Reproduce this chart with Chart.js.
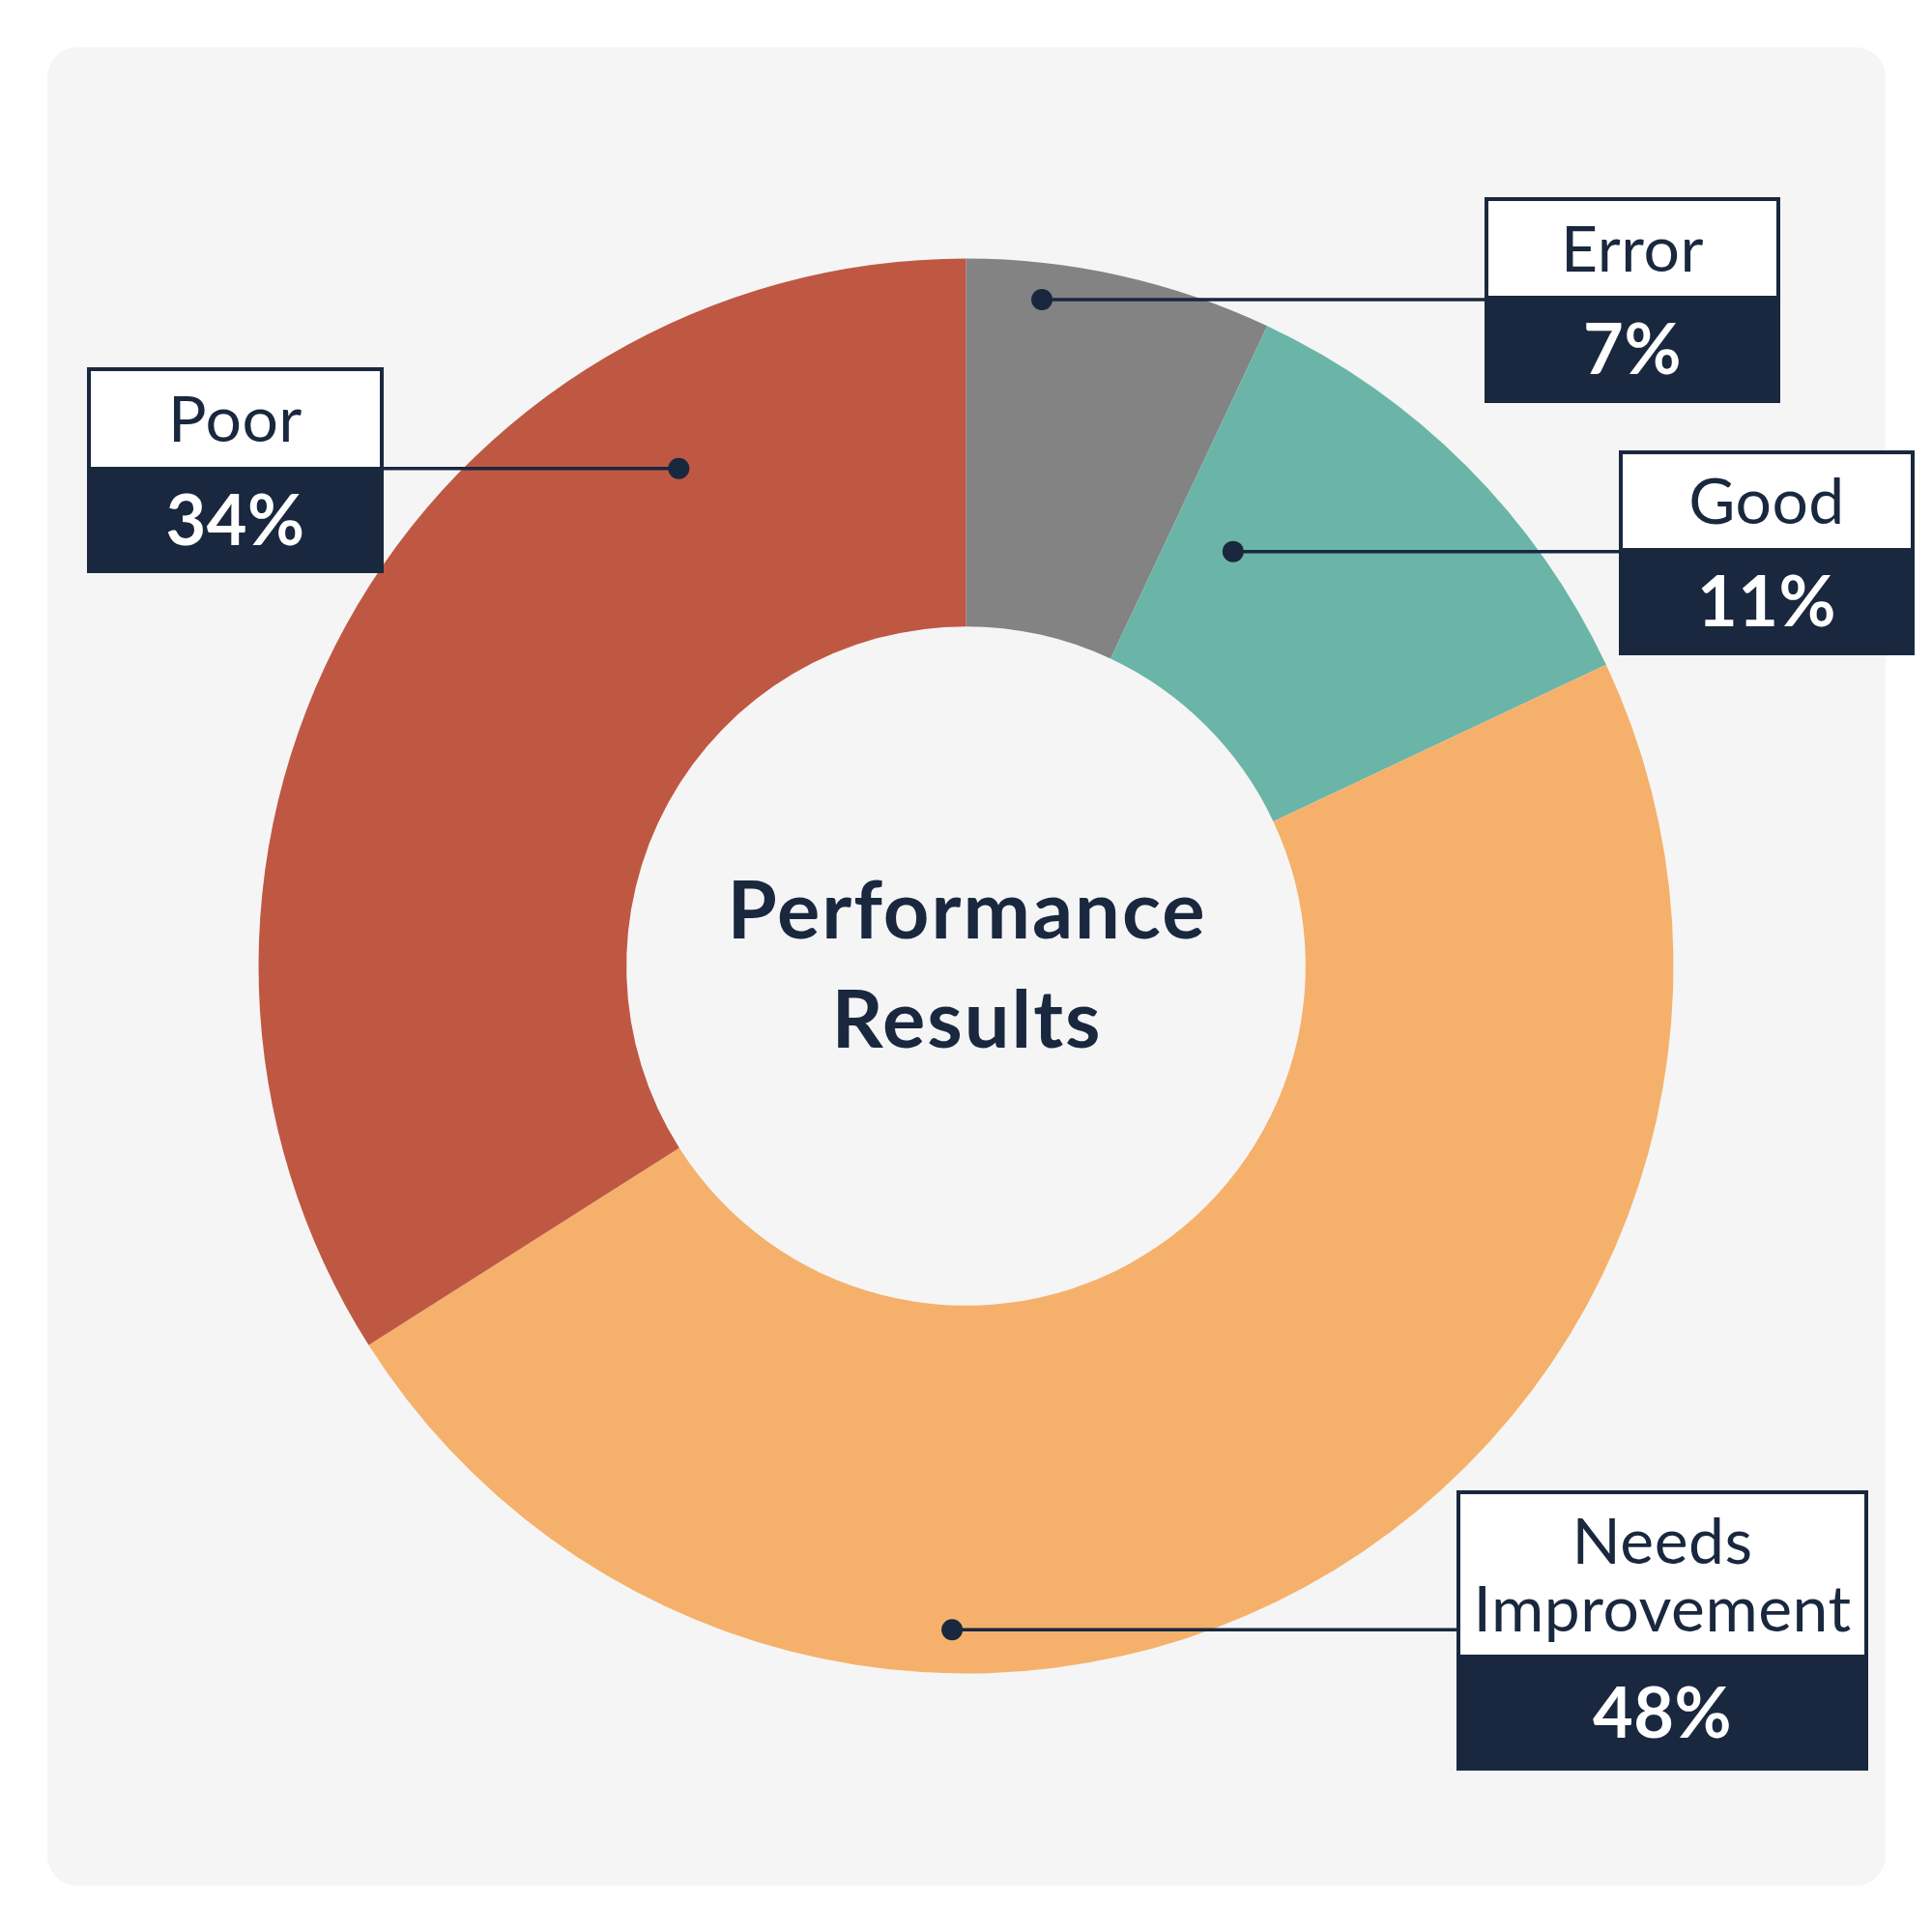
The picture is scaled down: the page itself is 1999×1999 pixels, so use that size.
<!DOCTYPE html>
<html>
<head>
<meta charset="utf-8">
<script src="https://cdn.jsdelivr.net/npm/chart.js@4/dist/chart.umd.min.js"></script>
<style>
  html, body { margin: 0; padding: 0; background: #ffffff; }
  #wrap { position: relative; width: 1999px; height: 1999px; }
  #panel { position: absolute; left: 49px; top: 49px; width: 1902px; height: 1902px; border-radius: 31px; background: #f5f5f5; }
  #c { position: absolute; left: 0; top: 0; }
</style>
</head>
<body>
<div id="wrap">
  <div id="panel"></div>
  <canvas id="c" width="1999" height="1999"></canvas>
</div>
<script>
// ---- data ----
const categories = ['Error', 'Good', 'Needs Improvement', 'Poor'];
const values = [7, 11, 48, 34];
const labelLines = [['Error'], ['Good'], ['Needs', 'Improvement'], ['Poor']];
const centerTitle = ['Performance', 'Results'];

// ---- styles ----
const sliceColors = ['#838383', '#6ab5a8', '#f5b16b', '#bf5843'];
const navy = '#19283e';
const FONT = 'Lato, "Noto Sans", sans-serif';

// ---- annotation layout (dot angle in degrees clockwise from top, radius as fraction of outer radius; box in px) ----
const dotAngles = [6.5, 32.8, 181.2, 330];
const dotRadii = [0.948, 0.697, 0.9385, 0.812];
const boxRects = [
  { x: 1536, y: 204, w: 306, top: 102, h: 213 },
  { x: 1675, y: 466, w: 306, top: 101, h: 212 },
  { x: 1507, y: 1542, w: 426, top: 170, h: 290 },
  { x: 90,  y: 380, w: 307, top: 103, h: 213 }
];

const calloutPlugin = {
  id: 'callouts',
  afterDatasetsDraw(chart) {
    const ctx = chart.ctx;
    const meta = chart.getDatasetMeta(0);
    const arc0 = meta.data[0];
    const cx = arc0.x, cy = arc0.y, R = arc0.outerRadius;

    // center title
    ctx.save();
    ctx.fillStyle = navy;
    ctx.textAlign = 'center';
    ctx.textBaseline = 'alphabetic';
    ctx.font = 'bold 83px ' + FONT;
    ctx.letterSpacing = '2px';
    ctx.fillText(centerTitle[0], cx + 1, cy - 29);
    ctx.fillText(centerTitle[1], cx + 1, cy + 84);
    ctx.restore();

    values.forEach((v, i) => {
      const a = dotAngles[i] * Math.PI / 180;
      const r = dotRadii[i] * R;
      const dx = cx + r * Math.sin(a);
      const dy = cy - r * Math.cos(a);
      const b = boxRects[i];
      const bw = 4;
      // leader line
      ctx.save();
      ctx.strokeStyle = navy;
      ctx.lineWidth = 3.5;
      ctx.beginPath();
      ctx.moveTo(dx, dy);
      const edgeX = (b.x > dx) ? b.x : b.x + b.w;
      ctx.lineTo(edgeX, dy);
      ctx.stroke();
      // dot
      ctx.fillStyle = navy;
      ctx.beginPath();
      ctx.arc(dx, dy, 11, 0, Math.PI * 2);
      ctx.fill();
      // box
      ctx.fillStyle = navy;
      ctx.fillRect(b.x, b.y, b.w, b.h);
      ctx.fillStyle = '#ffffff';
      ctx.fillRect(b.x + bw, b.y + bw, b.w - 2 * bw, b.top - bw);
      // label text
      ctx.textAlign = 'center';
      ctx.textBaseline = 'alphabetic';
      ctx.fillStyle = navy;
      const fs = 66;
      ctx.font = '400 ' + fs + 'px ' + FONT;
      ctx.letterSpacing = '0.5px';
      const capH = 0.7165 * fs;
      const lines = labelLines[i];
      const lh = 70;
      const midTop = b.y + b.top / 2 + 2;
      const start = midTop - (lines.length - 1) * lh / 2;
      lines.forEach((t, k) => {
        ctx.fillText(t, b.x + b.w / 2, start + k * lh + capH / 2);
      });
      // percent
      const pfs = 72;
      ctx.font = 'bold ' + pfs + 'px ' + FONT;
      ctx.letterSpacing = '0.5px';
      ctx.fillStyle = '#ffffff';
      const midBot = b.y + b.top + (b.h - b.top) / 2;
      ctx.fillText(v + '%', b.x + b.w / 2, midBot + 0.7165 * pfs / 2);
      ctx.restore();
    });
  }
};

new Chart(document.getElementById('c'), {
  type: 'doughnut',
  data: {
    labels: categories,
    datasets: [{
      data: values,
      backgroundColor: sliceColors,
      borderWidth: 0,
      hoverOffset: 0
    }]
  },
  options: {
    responsive: false,
    animation: false,
    devicePixelRatio: 1,
    cutout: '48%',
    rotation: 0,
    layout: { padding: { left: 267.5, right: 267.5, top: 267.5, bottom: 267.5 } },
    plugins: {
      legend: { display: false },
      tooltip: { enabled: false },
      title: { display: false }
    }
  },
  plugins: [calloutPlugin]
});
</script>
</body>
</html>
